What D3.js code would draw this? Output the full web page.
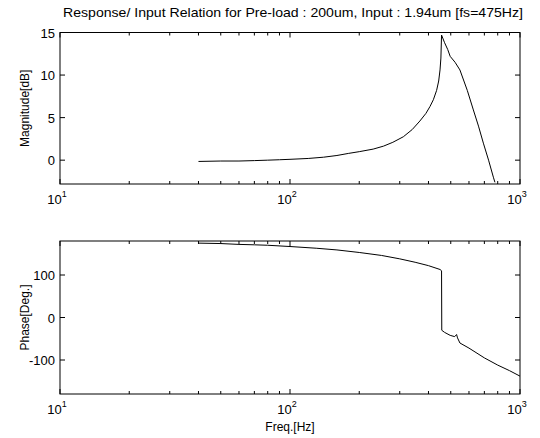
<!DOCTYPE html>
<html>
<head>
<meta charset="utf-8">
<script src="https://cdn.jsdelivr.net/npm/d3@7"></script>
<style>
body { margin: 0; background: #fff; }
text { font-family: "Liberation Sans", Arial, sans-serif; fill: #000; }
</style>
</head>
<body>
<script>
// magnitude data
var magFreq = [40, 50, 60, 70, 80, 90, 100, 120, 140, 160, 180, 200, 230, 255, 280, 311, 340, 367, 390, 406, 420, 434, 443, 449, 453, 456, 470, 485, 497, 522, 548, 590, 627, 660, 693, 730, 766, 778];
var magDb = [-0.15, -0.1, -0.1, -0.05, 0, 0.05, 0.1, 0.2, 0.35, 0.55, 0.8, 1.0, 1.3, 1.65, 2.1, 2.75, 3.6, 4.6, 5.5, 6.3, 7.1, 8.2, 9.3, 10.6, 12.0, 14.7, 13.8, 13.0, 12.2, 11.5, 10.6, 8.2, 5.9, 4.0, 2.0, 0, -2, -2.6];

// phase data
var phFreq = [40, 50, 60, 70, 80, 100, 130, 160, 200, 250, 300, 350, 400, 449, 456, 457, 470, 497, 520, 530, 535, 548, 600, 700, 800, 900, 1000];
var phDeg = [175, 174, 172, 171, 170, 167, 163, 159, 153, 146, 138, 130, 122, 113, 110, -30, -35, -42, -45, -40, -48, -60, -72, -95, -112, -125, -138];

var magTicks = [0, 5, 10, 15];
var phTicks = [-100, 0, 100];
var decades = [1, 2, 3];

var w = 540, h = 438;
var left = 60, right = 520;

var svg = d3.select("body").append("svg")
    .attr("width", w)
    .attr("height", h);

var x = d3.scaleLog().domain([10, 1000]).range([left, right]);

function panel(top, bottom, yDomain, yTicks, xs, ys, ylabel) {
    var y = d3.scaleLinear().domain(yDomain).range([bottom, top]);
    var g = svg.append("g");

    // frame
    g.append("rect")
        .attr("x", left).attr("y", top)
        .attr("width", right - left).attr("height", bottom - top)
        .attr("fill", "none").attr("stroke", "#000").attr("stroke-width", 1);

    // x ticks, inside, top and bottom
    var minor = [];
    for (var d = 10; d < 1000; d *= 10) {
        for (var k = 2; k <= 9; k++) minor.push(d * k);
    }
    var major = [10, 100, 1000];
    [bottom, top].forEach(function(yy, i) {
        var dir = i == 0 ? -1 : 1;
        g.selectAll(null).data(minor).enter().append("line")
            .attr("x1", function(d) { return x(d); })
            .attr("x2", function(d) { return x(d); })
            .attr("y1", yy).attr("y2", yy + dir * 3)
            .attr("stroke", "#000");
        g.selectAll(null).data(major).enter().append("line")
            .attr("x1", function(d) { return x(d); })
            .attr("x2", function(d) { return x(d); })
            .attr("y1", yy).attr("y2", yy + dir * 5)
            .attr("stroke", "#000");
    });

    // y ticks, inside, left and right
    [left, right].forEach(function(xx, i) {
        var dir = i == 0 ? 1 : -1;
        g.selectAll(null).data(yTicks).enter().append("line")
            .attr("x1", xx).attr("x2", xx + dir * 5)
            .attr("y1", function(d) { return y(d); })
            .attr("y2", function(d) { return y(d); })
            .attr("stroke", "#000");
    });

    // y tick labels
    g.selectAll(null).data(yTicks).enter().append("text")
        .attr("x", left - 5)
        .attr("y", function(d) { return y(d) + 5; })
        .attr("text-anchor", "end")
        .attr("font-size", 13)
        .text(function(d) { return d; });

    // x tick labels 10^n
    decades.forEach(function(n) {
        var t = g.append("text")
            .attr("x", x(Math.pow(10, n)) - 3)
            .attr("y", bottom + 20)
            .attr("text-anchor", "middle")
            .attr("font-size", 13);
        t.append("tspan").text("10");
        t.append("tspan").attr("dy", -7).attr("font-size", 9).text(n);
    });

    // y label
    g.append("text")
        .attr("transform", "translate(29," + ((top + bottom) / 2) + ") rotate(-90)")
        .attr("text-anchor", "middle")
        .attr("font-size", 12)
        .text(ylabel);

    // curve
    var line = d3.line()
        .x(function(d) { return x(d[0]); })
        .y(function(d) { return y(d[1]); });
    g.append("path")
        .datum(d3.zip(xs, ys))
        .attr("d", line)
        .attr("fill", "none")
        .attr("stroke", "#000")
        .attr("stroke-width", 1);
}

panel(32.5, 184, [-2.8, 15], magTicks, magFreq, magDb, "Magnitude[dB]");
panel(241, 394, [-180, 180], phTicks, phFreq, phDeg, "Phase[Deg.]");

svg.append("text")
    .attr("x", 293).attr("y", 17)
    .attr("text-anchor", "middle")
    .attr("font-size", 13)
    .attr("textLength", 460)
    .attr("lengthAdjust", "spacingAndGlyphs")
    .text("Response/ Input Relation for Pre-load : 200um, Input : 1.94um [fs=475Hz]");

svg.append("text")
    .attr("x", 290).attr("y", 431)
    .attr("text-anchor", "middle")
    .attr("font-size", 12)
    .text("Freq.[Hz]");
</script>
</body>
</html>
